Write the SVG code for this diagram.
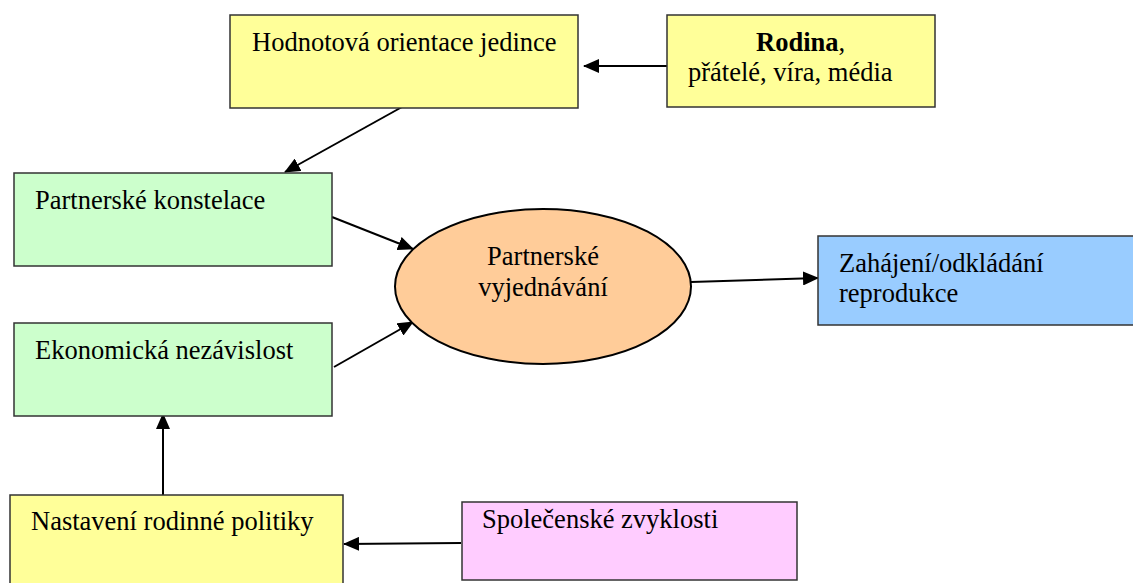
<svg xmlns="http://www.w3.org/2000/svg" width="1133" height="583" viewBox="0 0 1133 583">
  <style>
    .box { stroke: #333333; stroke-width: 1.5; }
    .t { font-family: "Liberation Serif", "Times New Roman", serif; font-size: 26.5px; fill: #000000; }
    .b { font-weight: bold; }
    .conn { stroke: #000000; stroke-width: 2; fill: none; marker-end: url(#arr); }
  </style>
  <defs>
    <marker id="arr" markerUnits="userSpaceOnUse" markerWidth="16" markerHeight="14" refX="15" refY="7" orient="auto">
      <path d="M0,0 L16,7 L0,14 z" fill="#000000"/>
    </marker>
  </defs>
  <rect width="1133" height="583" fill="#ffffff"/>

  <g id="connectors">
    <line class="conn" x1="667" y1="66" x2="584" y2="66"/>
    <line class="conn" x1="402" y1="107" x2="285" y2="172"/>
    <line class="conn" x1="332" y1="217" x2="413" y2="249"/>
    <line class="conn" x1="334" y1="367" x2="413" y2="322"/>
    <line class="conn" x1="691" y1="282" x2="818" y2="278"/>
    <line class="conn" x1="163" y1="495" x2="163" y2="414"/>
    <line class="conn" x1="461" y1="543" x2="344" y2="544"/>
  </g>

  <g id="hodnotova">
    <rect class="box" x="230" y="15" width="348" height="93" fill="#FFFF99"/>
    <text class="t" x="252" y="51">Hodnotová orientace jedince</text>
  </g>

  <g id="rodina">
    <rect class="box" x="667" y="15" width="268" height="92" fill="#FFFF99"/>
    <text class="t" x="756" y="51"><tspan class="b">Rodina</tspan>,</text>
    <text class="t" x="688" y="81">přátelé, víra, média</text>
  </g>

  <g id="konstelace">
    <rect class="box" x="14" y="173" width="318" height="93" fill="#CCFFCC"/>
    <text class="t" x="35" y="209">Partnerské konstelace</text>
  </g>

  <g id="ekonomicka">
    <rect class="box" x="14" y="323" width="318" height="93" fill="#CCFFCC"/>
    <text class="t" x="35" y="359">Ekonomická nezávislost</text>
  </g>

  <g id="vyjednavani">
    <ellipse cx="543" cy="286.5" rx="148" ry="77.5" fill="#FFCC99" stroke="#000000" stroke-width="2"/>
    <text class="t" x="543" y="265" text-anchor="middle">Partnerské</text>
    <text class="t" x="543" y="296" text-anchor="middle">vyjednávání</text>
  </g>

  <g id="zahajeni">
    <rect class="box" x="818" y="236" width="316" height="89" fill="#99CCFF"/>
    <text class="t" x="839" y="272">Zahájení/odkládání</text>
    <text class="t" x="839" y="302">reprodukce</text>
  </g>

  <g id="nastaveni">
    <rect class="box" x="10" y="495" width="333" height="100" fill="#FFFF99"/>
    <text class="t" x="31" y="530">Nastavení rodinné politiky</text>
  </g>

  <g id="spolecenske">
    <rect class="box" x="462" y="502" width="335" height="78" fill="#FFCCFF"/>
    <text class="t" x="482" y="528">Společenské zvyklosti</text>
  </g>
</svg>
